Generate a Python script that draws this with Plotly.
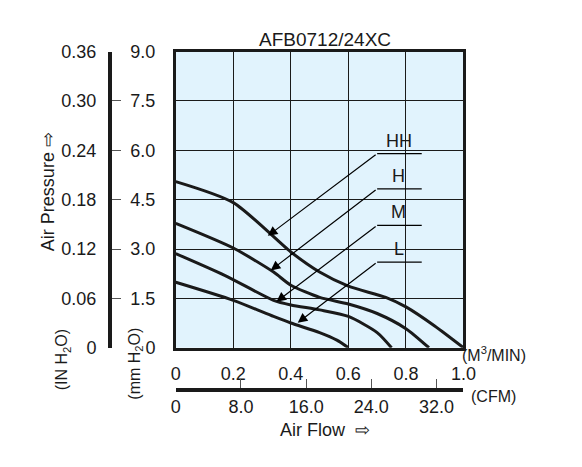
import plotly.graph_objects as go

# fan curves: air flow (m3/min) vs static pressure (mmH2O)
hh_flow = [0.0, 0.2, 0.4, 0.5, 0.6, 0.73, 0.8, 0.9, 1.0]
hh_pres = [5.05, 4.41, 2.91, 2.3, 1.87, 1.53, 1.24, 0.66, 0.0]
h_flow = [0.0, 0.2, 0.34, 0.4, 0.5, 0.6, 0.7, 0.8, 0.88]
h_pres = [3.78, 3.03, 2.3, 1.9, 1.53, 1.33, 1.04, 0.58, 0.0]
m_flow = [0.0, 0.17, 0.34, 0.4, 0.5, 0.6, 0.7, 0.75]
m_pres = [2.86, 2.2, 1.44, 1.3, 1.15, 0.95, 0.46, 0.0]
l_flow = [0.0, 0.2, 0.34, 0.4, 0.5, 0.56, 0.6]
l_pres = [1.99, 1.44, 0.95, 0.75, 0.46, 0.23, 0.0]

speed_labels = ["HH", "H", "M", "L"]
label_level = [5.9, 4.83, 3.72, 2.6]
arrow_tip_x = [0.32, 0.33, 0.35, 0.424]
arrow_tip_y = [3.4, 2.35, 1.4, 0.76]

mm_ticks = [0, 1.5, 3.0, 4.5, 6.0, 7.5, 9.0]
in_ticks = [0, 0.06, 0.12, 0.18, 0.24, 0.30, 0.36]
cmm_ticks = [0, 0.2, 0.4, 0.6, 0.8, 1.0]
cfm_ticks = [0, 8, 16, 24, 32]

font = "Liberation Sans, Arial"
fig = go.Figure()
for fx, fy in [(hh_flow, hh_pres), (h_flow, h_pres), (m_flow, m_pres), (l_flow, l_pres)]:
    fig.add_trace(go.Scatter(x=fx, y=fy, mode="lines", line=dict(color="#1a1a1a", width=3, shape="spline", smoothing=0.7),
                             showlegend=False, hoverinfo="x+y"))

# dummy traces so the extra axes show up
fig.add_trace(go.Scatter(x=[0], y=[0], yaxis="y2", mode="markers", opacity=0, showlegend=False))
fig.add_trace(go.Scatter(x=[0], y=[0], xaxis="x2", mode="markers", opacity=0, showlegend=False))

for name, lvl, tx, ty in zip(speed_labels, label_level, arrow_tip_x, arrow_tip_y):
    fig.add_shape(type="line", x0=0.70, x1=0.855, y0=lvl, y1=lvl, line=dict(color="black", width=1.3))
    fig.add_annotation(x=0.775, y=lvl, text=name, showarrow=False, yanchor="bottom", yshift=1,
                       font=dict(size=18, family=font, color="#1a1a1a"))
    fig.add_annotation(x=tx, y=ty, ax=0.70, ay=lvl, axref="x", ayref="y", xref="x", yref="y", text="",
                       showarrow=True, arrowhead=2, arrowsize=1.6, arrowwidth=1.2, arrowcolor="black")

# page body adds 8px margins, so the figure is sized to fit inside them
fig.update_layout(
    width=566, height=451, margin=dict(l=0, r=0, t=0, b=0),
    paper_bgcolor="white", plot_bgcolor="#e1f3fd",
    font=dict(family=font, size=18, color="#1a1a1a"),
    xaxis=dict(domain=[0.297, 0.822], range=[0, 1.0], tickvals=cmm_ticks, ticktext=["0", "0.2", "0.4", "0.6", "0.8", "1.0"],
               showgrid=True, gridcolor="#1a1a1a", gridwidth=1.3, showline=True, linecolor="#1a1a1a", linewidth=2.5,
               mirror=True, ticks="", zeroline=False, ticklabelstandoff=8),
    yaxis=dict(domain=[0.235, 0.922], range=[0, 9.0], tickvals=mm_ticks, ticktext=["0", "1.5", "3.0", "4.5", "6.0", "7.5", "9.0"],
               showgrid=True, gridcolor="#1a1a1a", gridwidth=1.3, showline=True, linecolor="#1a1a1a", linewidth=2.5,
               mirror=True, ticks="", zeroline=False, ticklabelstandoff=14),
    yaxis2=dict(overlaying="y", anchor="free", position=0.177, side="left", range=[0, 0.36], tickvals=in_ticks,
                ticktext=["0", "0.06", "0.12", "0.18", "0.24", "0.30", "0.36"], showgrid=False, zeroline=False,
                showline=True, linecolor="#1a1a1a", linewidth=4, ticks="inside", ticklen=9, tickcolor="#555",
                ticklabelstandoff=8),
    xaxis2=dict(overlaying="x", anchor="free", position=0.1375, side="bottom", domain=[0.304, 0.825], range=[0, 35.3],
                tickvals=cfm_ticks, ticktext=["0", "8.0", "16.0", "24.0", "32.0"], showgrid=False, zeroline=False,
                showline=True, linecolor="#1a1a1a", linewidth=4, ticks="inside", ticklen=9, tickcolor="#555"),
)

paper_text = [
    ("AFB0712/24XC", 0.569, 0.978, 0, 19),
    ("Air Pressure ⇨", 0.042, 0.596, -90, 18),
    ("(IN H<sub>2</sub>O)", 0.069, 0.131, -90, 16),
    ("(mm H<sub>2</sub>O)", 0.201, 0.109, -90, 16),
    ("(M<sup>3</sup>/MIN)", 0.94, 0.193, 0, 16),
    ("(CFM)", 0.922, 0.098, 0, 16),
    ("Air Flow  ⇨", 0.569, 0.0155, 0, 18),
]
for txt, px, py, ang, sz in paper_text:
    fig.add_annotation(x=px, y=py, xref="paper", yref="paper", text=txt, showarrow=False, textangle=ang,
                       font=dict(size=sz, family=font, color="#1a1a1a"))

fig.write_html("out.html")
